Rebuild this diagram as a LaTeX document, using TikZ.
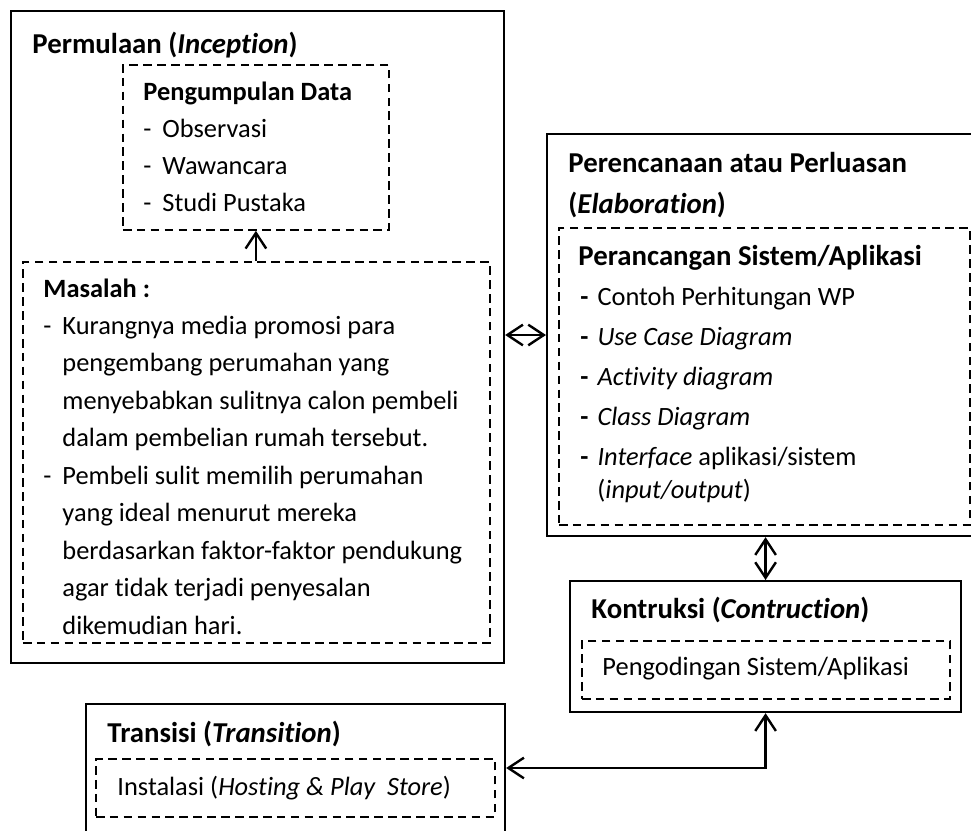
\documentclass[tikz,border=0pt]{standalone}
\usepackage{fontspec}
\setmainfont[Ligatures=NoCommon]{Carlito}
\usetikzlibrary{arrows.meta}
\newlength\pxu \setlength\pxu{0.416667pt}
\begin{document}
\begin{tikzpicture}[x=0.416667pt, y=-0.416667pt,
  outerbox/.style={draw, line width=0.9pt, rectangle, inner sep=0pt, anchor=north west},
  innerbox/.style={draw, line width=0.75pt, dash pattern=on 3.6pt off 2.2pt, rectangle, inner sep=0pt, anchor=north west},
  tx/.style={anchor=base west, inner sep=0pt, font=\fontsize{11}{13}\selectfont},
  tb/.style={anchor=base west, inner sep=0pt, font=\fontsize{11}{13}\selectfont\bfseries},
  tt/.style={anchor=base west, inner sep=0pt, font=\fontsize{12}{14}\selectfont\bfseries},
  arr/.style={line width=1pt, -{Straight Barb[length=6.5pt,width=8.6pt]}},
  darr/.style={line width=1pt, {Straight Barb[length=6.5pt,width=8.6pt]}-{Straight Barb[length=6.5pt,width=8.6pt]}}]
\fill[white] (0,0) rectangle (971,830);
\useasboundingbox (0,0) rectangle (971,830);
\clip (0,0) rectangle (971,830);

% boxes
\node[outerbox, minimum width=493\pxu, minimum height=652\pxu] (perm) at (10,10) {};
\node[innerbox, minimum width=266\pxu, minimum height=165\pxu] (peng) at (122,64) {};
\node[innerbox, minimum width=467\pxu, minimum height=381\pxu] (mas) at (22,261) {};
\node[outerbox, minimum width=429\pxu, minimum height=402\pxu] (elab) at (546,133) {};
\node[innerbox, minimum width=411\pxu, minimum height=297\pxu] (peran) at (558,227) {};
\node[outerbox, minimum width=391\pxu, minimum height=131\pxu] (kon) at (569,580) {};
\node[innerbox, minimum width=368\pxu, minimum height=58\pxu] (kode) at (581,640) {};
\node[outerbox, minimum width=419\pxu, minimum height=147\pxu] (tra) at (85,703) {};
\node[innerbox, minimum width=399\pxu, minimum height=58\pxu] (ins) at (95,758) {};

% Permulaan
\node[tt] (t1) at (32,53) {Permulaan (\textit{Inception})};
\node[tb] (p0) at (143,100) {Pengumpulan Data};
\node[tx] (p1) at (143,137) {\makebox[7.9pt][l]{-}Observasi};
\node[tx] (p2) at (143,174) {\makebox[7.9pt][l]{-}Wawancara};
\node[tx] (p3) at (143,211) {\makebox[7.9pt][l]{-}Studi Pustaka};

\node[tb] (m0) at (43,297) {Masalah :};
\node[tx] (m1) at (43,334) {\makebox[7.9pt][l]{-}Kurangnya media promosi para};
\node[tx] (m2) at (62,371.5) {pengembang perumahan yang};
\node[tx] (m3) at (62,409) {menyebabkan sulitnya calon pembeli};
\node[tx] (m4) at (62,446.5) {dalam pembelian rumah tersebut.};
\node[tx] (m5) at (43,484) {\makebox[7.9pt][l]{-}Pembeli sulit memilih perumahan};
\node[tx] (m6) at (62,521.5) {yang ideal menurut mereka};
\node[tx] (m7) at (62,559) {berdasarkan faktor-faktor pendukung};
\node[tx] (m8) at (62,596.5) {agar tidak terjadi penyesalan};
\node[tx] (m9) at (62,634) {dikemudian hari.};

% Elaboration
\node[tt] (t2a) at (568,172) {Perencanaan atau Perluasan};
\node[tt] (t2b) at (568,213) {(\textit{Elaboration})};
\node[tt] (e0) at (578,265) {Perancangan Sistem/Aplikasi};
\node[tx] (e1) at (580,305) {\makebox[7.1pt][l]{\bfseries -}Contoh Perhitungan WP};
\node[tx] (e2) at (580,345) {\makebox[7.1pt][l]{\bfseries -}\textit{Use Case Diagram}};
\node[tx] (e3) at (580,385) {\makebox[7.1pt][l]{\bfseries -}\textit{Activity diagram}};
\node[tx] (e4) at (580,425) {\makebox[7.1pt][l]{\bfseries -}\textit{Class Diagram}};
\node[tx] (e5) at (580,465) {\makebox[7.1pt][l]{\bfseries -}\textit{Interface} aplikasi/sistem};
\node[tx] (e6) at (597,498) {(\textit{input/output})};

% Construction
\node[tt] (t3) at (591,618) {Kontruksi (\textit{Contruction})};
\node[tx] (k1) at (602,675) {Pengodingan Sistem/Aplikasi};

% Transition
\node[tt] (t4) at (107,742) {Transisi (\textit{Transition})};
\node[tx] (i1) at (117,795) {Instalasi (\textit{Hosting \& Play\ \ Store})};

% connectors
\coordinate (hy) at (0,335);
\coordinate (cy) at (0,768);
\draw[arr] (mas.north -| peng.south) -- (peng.south);
\draw[darr] (perm.east |- hy) -- (elab.west |- hy);
\draw[darr] (kon.north |- elab.south) -- (kon.north);
\draw[darr] (kon.south) -- (kon.south |- cy) -- (tra.east |- cy);
\end{tikzpicture}
\end{document}
